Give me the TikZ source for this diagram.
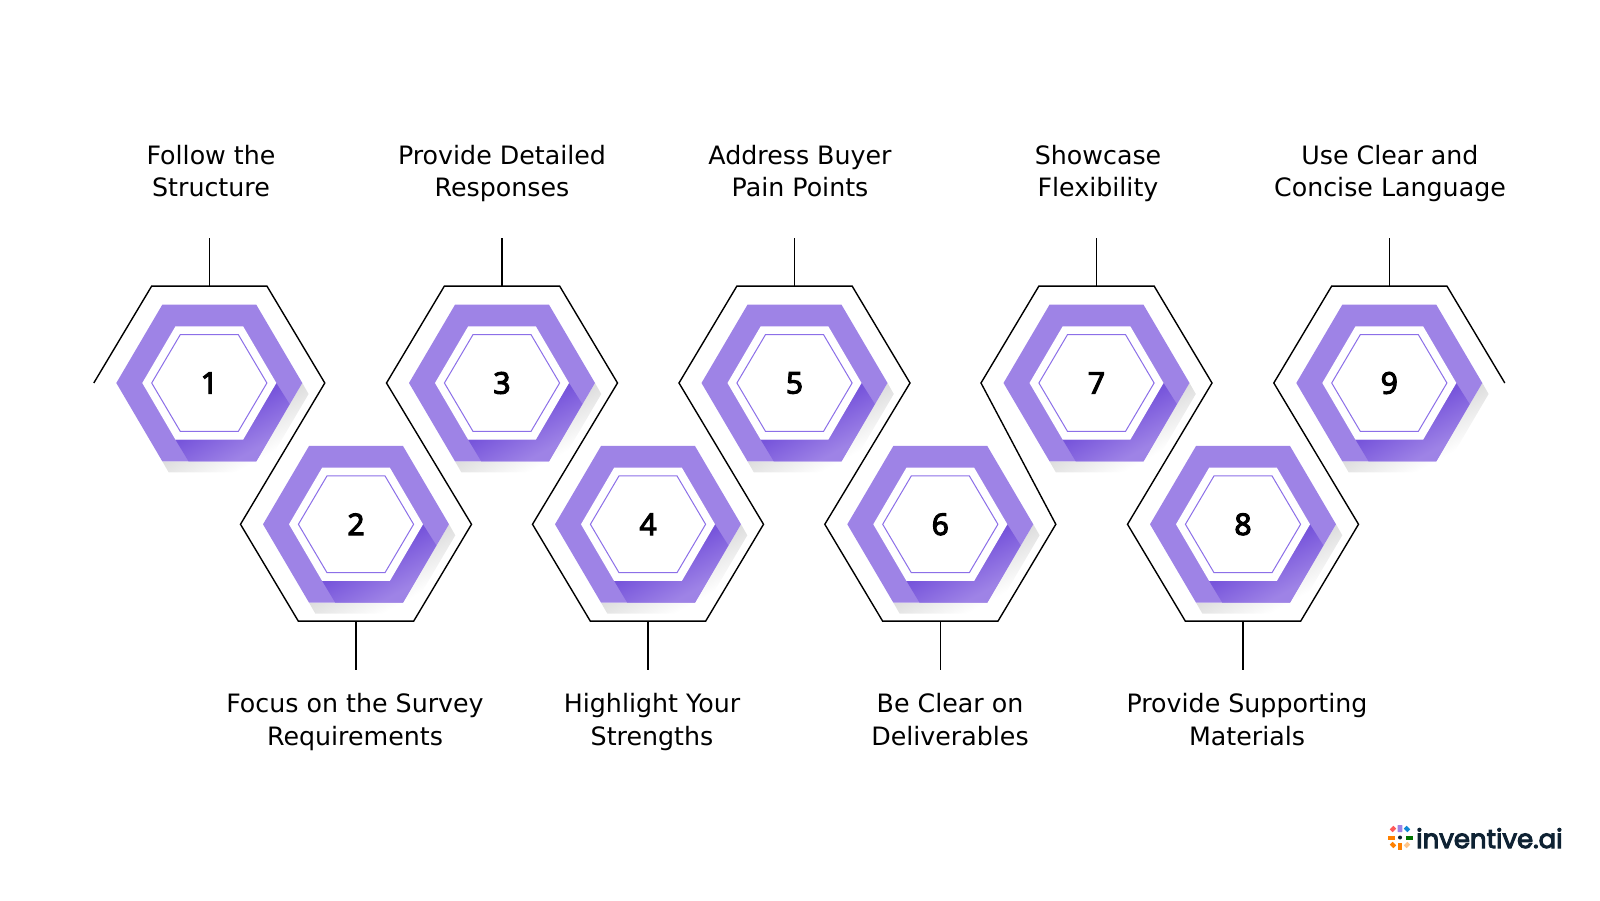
\documentclass[tikz,border=0pt]{standalone}
\usepackage{fontspec}
\setmainfont{DejaVu Sans}
\newfontfamily\numfont{Noto Sans}[FakeBold=3.5]
\newfontfamily\logofont{Poppins}[FakeBold=4]
\definecolor{ringpurple}{HTML}{9E83E6}
\definecolor{darkpurple}{HTML}{7755DB}
\definecolor{linepurple}{HTML}{8C6FE8}
\definecolor{shadowgray}{HTML}{DEDEDE}
\definecolor{logonavy}{HTML}{0E2233}
\pgfdeclareverticalshading{bandshade}{100bp}{color(0bp)=(ringpurple); color(31bp)=(ringpurple); color(55bp)=(darkpurple); color(100bp)=(darkpurple)}
\pgfdeclareverticalshading{shadowshade}{100bp}{color(0bp)=(white); color(32bp)=(white); color(52bp)=(shadowgray); color(100bp)=(shadowgray)}
\begin{document}
\begin{tikzpicture}[x=1pt,y=1pt,
    hexnum/.style={inner sep=0pt,font=\numfont\fontsize{30}{30}\selectfont},
    steplabel/.style={inner sep=0pt,align=center,text height=20pt,text depth=20pt,font=\fontsize{25.3}{32.5}\selectfont},
    wire/.style={draw=black,line width=1.4pt,line join=miter},
    stem/.style={draw=black,line width=1.4pt},
    ring/.style={fill=ringpurple},
    band/.style={shading=bandshade,shading angle=29},
    shadow/.style={shading=shadowshade,shading angle=29}
  ]
  \useasboundingbox (0,0) rectangle (1600,900);
  \foreach \n/\x/\y in {1/209.3/517,2/356/375.7,3/502/517,4/648/375.7,5/794.5/517,6/940.3/375.7,7/1096.5/517,8/1243/375.7,9/1389.3/517}{
    % hexagon with its shadow and inner band
    \shade[shadow] (\x-47,\y-78.3) -- ++(6.3,-11) -- (\x+53.3,\y-89.3) -- (\x+99.3,\y-11) -- (\x+93,\y) -- (\x+47,\y-78.3) -- cycle;
    \fill[ring] (\x-93,\y) -- ++(46,78.3) -- ++(94,0) -- ++(46,-78.3) -- ++(-46,-78.3) -- ++(-94,0) -- cycle;
    \shade[band] (\x-33.8,\y-56.7) -- ++(13,-21.6) -- (\x+47,\y-78.3) -- (\x+80.3,\y-21) -- (\x+67,\y) -- (\x+33.8,\y-56.7) -- cycle;
    \fill[white] (\x-67,\y) -- ++(33.2,56.7) -- ++(67.6,0) -- ++(33.2,-56.7) -- ++(-33.2,-56.7) -- ++(-67.6,0) -- cycle;
    \draw[linepurple,line width=1pt] (\x-57.6,\y) -- ++(28.6,48.4) -- ++(58,0) -- ++(28.6,-48.4) -- ++(-28.6,-48.4) -- ++(-58,0) -- cycle;
    \node[hexnum] (hex\n) at (\x,\y) {\n};
    % corners of the outer line
    \coordinate (hex\n-l) at (\x-115.5,\y);
    \coordinate (hex\n-r) at (\x+115.5,\y);
    \coordinate (hex\n-tl) at (\x-57.7,\y+96.8);
    \coordinate (hex\n-tr) at (\x+57.7,\y+96.8);
    \coordinate (hex\n-bl) at (\x-57.7,\y-96.8);
    \coordinate (hex\n-br) at (\x+57.7,\y-96.8);
    \coordinate (hex\n-t) at (\x,\y+96.8);
    \coordinate (hex\n-b) at (\x,\y-96.8);
    \coordinate (tip\n-t) at (\x,\y+144.5);
    \coordinate (tip\n-b) at (\x,\y-145.5);
  }
  \draw[wire] (hex1-l) -- (hex1-tl) -- (hex1-tr) -- (hex1-r) -- (hex2-l) -- (hex2-bl) -- (hex2-br) -- (hex2-r)
    -- (hex3-l) -- (hex3-tl) -- (hex3-tr) -- (hex3-r) -- (hex4-l) -- (hex4-bl) -- (hex4-br) -- (hex4-r)
    -- (hex5-l) -- (hex5-tl) -- (hex5-tr) -- (hex5-r) -- (hex6-l) -- (hex6-bl) -- (hex6-br) -- (hex6-r)
    -- (hex7-l) -- (hex7-tl) -- (hex7-tr) -- (hex7-r) -- (hex8-l) -- (hex8-bl) -- (hex8-br) -- (hex8-r)
    -- (hex9-l) -- (hex9-tl) -- (hex9-tr) -- (hex9-r);
  \foreach \n in {1,3,5,7,9} \draw[stem] (hex\n-t) -- (tip\n-t);
  \foreach \n in {2,4,6,8} \draw[stem] (hex\n-b) -- (tip\n-b);
  % labels
  \node[steplabel] (lab1) at (211,703) {Follow the\\Structure};
  \node[steplabel] (lab2) at (355,154.8) {Focus on the Survey\\Requirements};
  \node[steplabel] (lab3) at (502,703) {Provide Detailed\\Responses};
  \node[steplabel] (lab4) at (652,154.8) {Highlight Your\\Strengths};
  \node[steplabel] (lab5) at (800,703) {Address Buyer\\Pain Points};
  \node[steplabel] (lab6) at (950,154.8) {Be Clear on\\Deliverables};
  \node[steplabel] (lab7) at (1098,703) {Showcase\\Flexibility};
  \node[steplabel] (lab8) at (1247,154.8) {Provide Supporting\\Materials};
  \node[steplabel] (lab9) at (1390,703) {Use Clear and\\Concise Language};
  % logo
  \node[anchor=base west,inner sep=0pt,text=logonavy,font=\logofont\fontsize{26}{26}\selectfont] (logo) at (1416,52) {inventive.ai};
  \fill[rounded corners=0.5pt,fill=ringpurple] (1397.7,75) rectangle (1402.3,68);
  \fill[fill=green!45!black] (1406,64) rectangle (1413.3,60);
  \fill[fill=orange] (1388,64) rectangle (1395,60.5);
  \fill[fill=orange] (1398,57) rectangle (1402,50);
  \fill[fill=red!65!white,rotate around={45:(1393,71)}] (1390.5,69) rectangle (1395.5,73);
  \fill[fill=cyan!70!blue,rotate around={-45:(1407,71)}] (1404.5,69) rectangle (1409.5,73);
  \fill[fill=orange,rotate around={-45:(1393,55)}] (1390.5,53) rectangle (1395.5,57);
  \fill[fill=orange!45!white,rotate around={45:(1407,55)}] (1404.5,53) rectangle (1409.5,57);
  \fill[fill=logonavy] (1400,62.5) circle (2pt);
\end{tikzpicture}
\end{document}
